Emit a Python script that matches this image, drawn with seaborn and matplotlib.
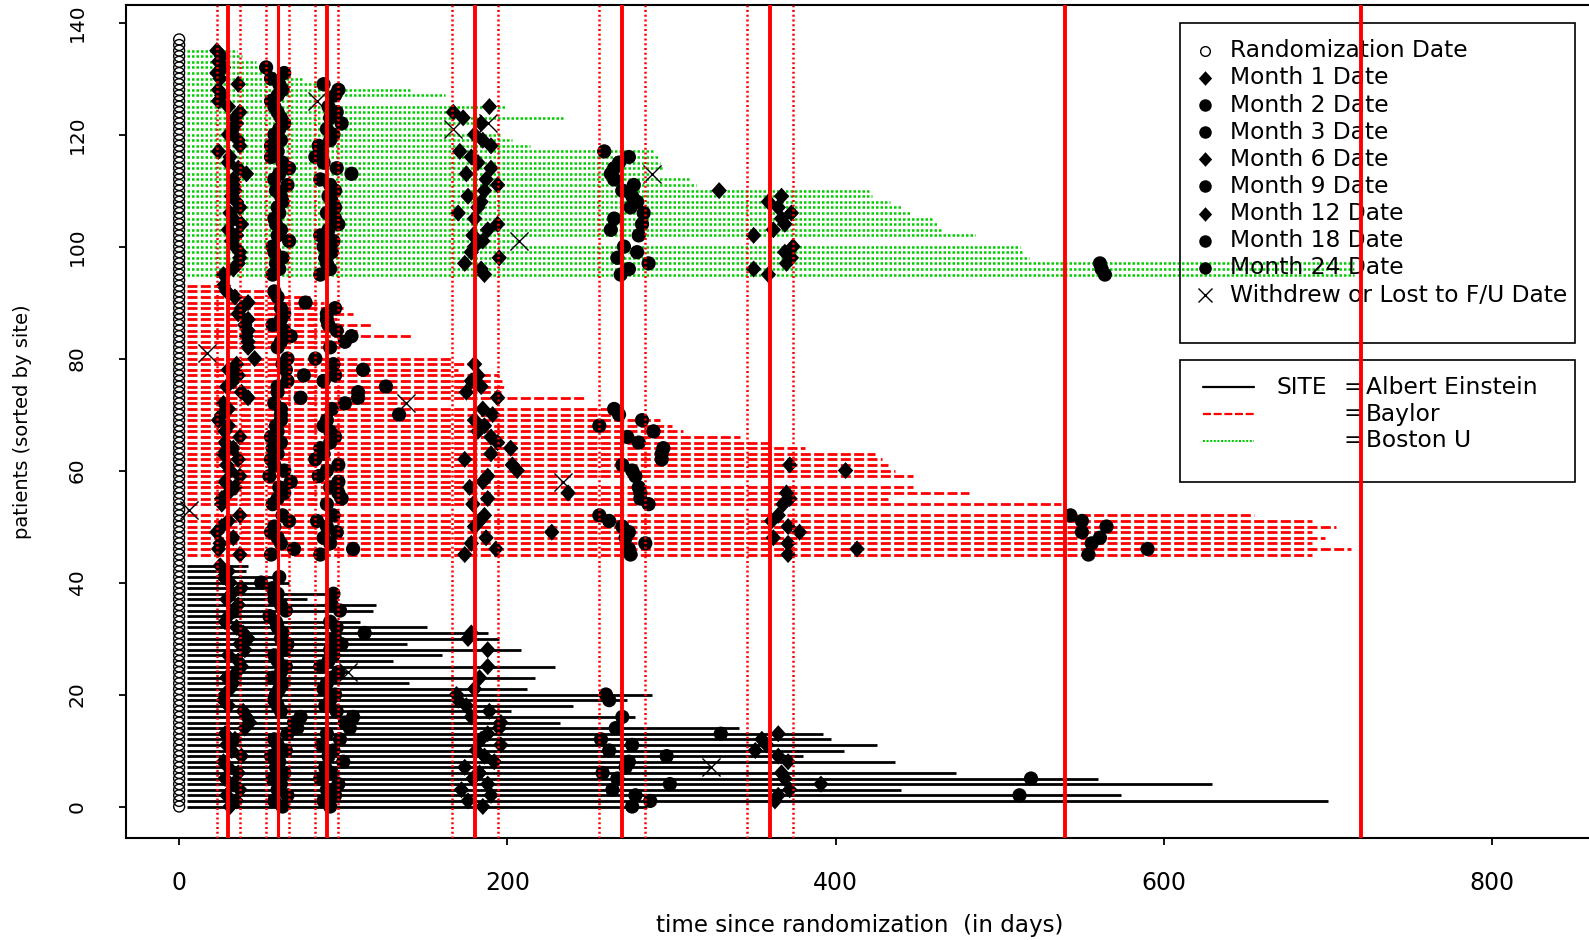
import matplotlib
matplotlib.use("Agg")
import matplotlib.pyplot as plt
from matplotlib.patches import Rectangle
from matplotlib.transforms import Affine2D
import numpy as np
import pandas as pd
import seaborn as sns

# Sites, stacked from the bottom of the plot
site_names = ["Albert Einstein", "Baylor", "Boston U"]
site_first_patient = [0, 44, 94]

# Albert Einstein (patients 0-43): day of last follow-up and visit days (None = no visit)
ae_end = [285, 700, 574, 440, 629, 560, 473, 324, 436, 380, 405, 425, 397, 392, 341, 232, 278, 202, 240, 273,
          288, 212, 140, 217, 103, 229, 130, 160, 208, 139, 195, 188, 151, 110, 57, 118, 120, 78, 97, 60,
          67, 62, 41, 42]
ae_m1 = [31, 35, 29, 37, 33, 28, 36, 30, 27, 38, 32, 29, 34, 28, 40, 43, 41, 39, 30, 27,
         28, 31, 33, 29, 35, 38, 36, 30, 40, 37, 42, 39, 35, 28, 30, 34, 36, 29, 32, 38,
         31, 27, 30, 25]
ae_m2 = [63, 58, 66, 60, 62, 57, 64, 59, 61, 56, 65, 60, 58, 66, 72, 70, 74, 62, 60, 58,
         59, 61, 63, 57, 62, 65, 60, 58, 64, 66, 62, 63, 60, 59, 55, 65, 62, 58, 60, 57,
         50, 61, None, None]
ae_m3 = [92, 88, 95, 90, 97, 86, 93, 89, 100, 91, 94, 87, 98, 90, 104, 101, 106, 96, 89, 92,
         95, 88, 90, 93, 97, 86, 91, 94, 92, 99, 95, 113, 96, 92, None, 98, 93, None, 94, None,
         None, None, None, None]
ae_m6 = [185, 176, 190, 172, 188, 179, 183, 174, 192, 186, 181, 196, 184, 188, 195, 196, 178, 189, 175, 170,
         169, 180, None, 183, None, 188, None, None, 188, None, 176, 178, None, None, None, None, None, None, None, None,
         None, None, None, None]
ae_m9 = [276, 287, 278, 264, 299, 267, 258, 272, 274, 297, 262, 276, 257, 330, 266, None, 270, None, None, 262,
         260, None, None, None, None, None, None, None, None, None, None, None, None, None, None, None, None, None, None, None,
         None, None, None, None]
ae_m12 = [None, 363, 365, 372, 391, 369, 367, None, 371, 365, 351, 358, 355, 365, None, None, None, None, None, None,
          None, None, None, None, None, None, None, None, None, None, None, None, None, None, None, None, None, None, None, None,
          None, None, None, None]
ae_m18 = [None, None, 512, None, None, 519, None, None, None, None, None, None, None, None, None, None, None, None, None, None,
          None, None, None, None, None, None, None, None, None, None, None, None, None, None, None, None, None, None, None, None,
          None, None, None, None]

# Baylor (patients 44-93)
by_end = [5, 690, 714, 690, 698, 690, 705, 690, 655, 6, 537, 432, 481, 447, 234, 447, 436, 432, 428, 424,
          381, 361, 342, 307, 300, 293, 272, 270, 138, 247, 196, 198, 197, 195, 170, 182, 166, 17, 98, 104,
          141, 110, 118, 96, 106, 100, 88, 80, 60, 30]
by_m1 = [None, 37, 24, 25, 33, 23, 26, 30, 37, None, 26, 26, 30, 34, 28, 37, 31, 29, 36, 27,
         33, 28, 37, 28, 30, 24, 26, 30, 27, 42, 38, 29, 33, 36, 30, 35, 46, None, 42, 42,
         41, 42, 40, 42, 36, 38, 42, 34, 29, 27]
by_m2 = [None, 56, 70, 62, 60, 56, 58, 67, 63, None, 57, 60, 64, 61, 68, 55, 64, 58, 56, 60,
         57, 62, 56, 60, 59, 62, 62, 62, 58, 74, 60, 60, 66, 76, 65, 63, 66, None, 60, 62,
         68, 64, 57, 62, 64, 62, 77, 60, 58, None]
by_m3 = [None, 86, 106, 92, 88, 96, 90, 84, 94, None, 90, 99, 97, 92, 97, 85, 90, 97, 83, 88,
         86, 92, 95, 92, 88, 90, 134, 93, 101, 109, 109, 126, 88, 95, 112, 94, 83, None, 92, 101,
         105, 96, 91, 90, 90, 95, None, None, None, None]
by_m6 = [None, 174, 193, 178, 187, 227, 180, 183, 186, None, 179, 188, 237, 177, 185, 188, 206, 203, 174, 190,
         202, 194, 190, 182, 186, 180, 191, 185, None, 194, 175, 184, 178, 182, None, 180, None, None, None, None,
         None, None, None, None, None, None, None, None, None, None]
by_m9 = [None, 275, 274, 284, 272, 274, 270, 262, 256, None, 286, 281, 281, 280, None, 278, 276, 270, 294, 294,
         295, 280, 273, 289, 256, 282, 268, 265, None, None, None, None, None, None, None, None, None, None, None, None,
         None, None, None, None, None, None, None, None, None, None]
by_m12 = [None, 371, 413, 371, 362, 378, 371, 361, 365, None, 368, 372, 370, None, None, None, 406, 372, None, None,
          None, None, None, None, None, None, None, None, None, None, None, None, None, None, None, None, None, None, None, None,
          None, None, None, None, None, None, None, None, None, None]
by_m18 = [None, 554, 590, 556, 561, 550, 565, 550, 543, None, None, None, None, None, None, None, None, None, None, None,
          None, None, None, None, None, None, None, None, None, None, None, None, None, None, None, None, None, None, None, None,
          None, None, None, None, None, None, None, None, None, None]

# Boston U (patients 94-137)
bu_end = [5, 716, 716, 716, 518, 514, 512, 207, 485, 465, 462, 460, 446, 440, 433, 422, 420, 315, 311, 288,
          294, 293, 292, 290, 214, 203, 196, 167, 188, 235, 175, 199, 84, 162, 142, 89, 76, 66, 54, 47,
          38, 35, 5, 5]
bu_m1 = [None, 27, 33, 36, 37, 37, 34, 32, 35, 30, 38, 33, 31, 37, 35, 32, 34, 33, 33, 41,
         36, 30, 31, 24, 37, 36, 30, 33, 35, 34, 37, 30, 24, 26, 24, 36, 25, 23, 27, 24,
         26, 23, None, None]
bu_m2 = [None, 57, 61, 59, 63, 58, 57, 67, 60, 62, 59, 58, 61, 60, 63, 62, 59, 66, 58, 61,
         67, 63, 56, 60, 56, 62, 58, 61, 64, 62, 60, 58, 56, 60, 63, 61, 56, 64, 53, None,
         None, None, None, None]
bu_m3 = [None, 86, 92, 90, 89, 93, 88, 94, 86, 91, 97, 95, 90, 95, 93, 91, 95, 92, 86, 105,
         96, 88, 83, 87, 85, 92, 94, 90, 99, 92, 96, 91, None, 95, 97, 88, None, None, None, None,
         None, None, None, None]
bu_m6 = [None, 186, 184, 174, 195, 178, 180, 185, 179, 188, 194, 180, 170, 182, 184, 176, 186, 194, 187, 175,
         190, 182, 178, 171, 190, 185, 180, None, 184, 173, 167, 189, None, None, None, None, None, None, None, None,
         None, None, None, None]
bu_m9 = [None, 269, 274, 286, 267, 279, 271, None, 280, 263, 282, 265, 283, 275, 279, 276, 270, 277, 265, 263,
         265, 268, 274, 259, None, None, None, None, None, None, None, None, None, None, None, None, None, None, None, None,
         None, None, None, None]
bu_m12 = [None, 359, 350, 370, 373, 369, 374, None, 350, 362, 369, 367, 373, 365, 359, 367, 329, None, None, None,
          None, None, None, None, None, None, None, None, None, None, None, None, None, None, None, None, None, None, None, None,
          None, None, None, None]
bu_m18 = [None, 564, 562, 561, None, None, None, None, None, None, None, None, None, None, None, None, None, None, None, None,
          None, None, None, None, None, None, None, None, None, None, None, None, None, None, None, None, None, None, None, None,
          None, None, None, None]

visit_names = ["Month 1 Date", "Month 2 Date", "Month 3 Date", "Month 6 Date", "Month 9 Date",
               "Month 12 Date", "Month 18 Date", "Month 24 Date"]
target_days = [30, 60, 90, 180, 270, 360, 540, 720]
window_days = [23, 37, 53, 67, 83, 97, 166, 194, 256, 284, 346, 374]

withdrew_patient = [7, 24, 53, 58, 72, 81, 101, 113, 121, 122, 126]
withdrew_day = [324, 103, 6, 234, 138, 17, 207, 288, 167, 188, 84]

# Long tables
site_end = {"Albert Einstein": ae_end, "Baylor": by_end, "Boston U": bu_end}
site_visits = {
    "Albert Einstein": [ae_m1, ae_m2, ae_m3, ae_m6, ae_m9, ae_m12, ae_m18],
    "Baylor": [by_m1, by_m2, by_m3, by_m6, by_m9, by_m12, by_m18],
    "Boston U": [bu_m1, bu_m2, bu_m3, bu_m6, bu_m9, bu_m12, bu_m18],
}
pat_rows, visit_rows = [], []
for site, first in zip(site_names, site_first_patient):
    for i, end in enumerate(site_end[site]):
        pat_rows.append((first + i, site, 0, end))
    for name, days in zip(visit_names, site_visits[site]):
        for i, d in enumerate(days):
            if d is not None:
                visit_rows.append((first + i, name, d))
patients = pd.DataFrame(pat_rows, columns=["patient", "site", "rand_day", "end"])
visits = pd.DataFrame(visit_rows, columns=["patient", "visit", "day"])

# Plot
sns.set_style("ticks")
plt.rcParams["font.family"] = ["DejaVu Sans"]
plt.rcParams["text.color"] = "black"
plt.rcParams["axes.labelcolor"] = "black"

W, H = 1589, 940
fig = plt.figure(figsize=(W / 100, H / 100), dpi=100)
ax = fig.add_axes([125.8 / W, 1 - 837.7 / H, (1594 - 125.8) / W, (837.7 - 4.7) / H])

site_style = {
    "Albert Einstein": dict(colors="black", linestyles="solid", linewidth=2.0),
    "Baylor": dict(colors="#ff0000", linestyles=(0, (3.6, 1.2)), linewidth=2.0),
    "Boston U": dict(colors="#00cd00", linestyles=(0, (1.0, 0.8)), linewidth=1.8),
}
line_start = 5
for site, grp in patients.groupby("site", sort=False):
    ax.hlines(grp["patient"], line_start, grp["end"], zorder=1, **site_style[site])

# randomization circles
ax.scatter(patients["rand_day"], patients["patient"], s=62, facecolors="none",
           edgecolors="black", linewidths=1.0, zorder=2)

diamond = [(-1, 0), (0, 1.1), (1, 0), (0, -1.1)]
visit_marker = {"Month 1 Date": diamond, "Month 2 Date": "o", "Month 3 Date": "o",
                "Month 6 Date": diamond, "Month 9 Date": "o", "Month 12 Date": diamond,
                "Month 18 Date": "o", "Month 24 Date": "o"}
visit_size = {"Month 1 Date": 150, "Month 2 Date": 105, "Month 3 Date": 105, "Month 6 Date": 150,
              "Month 9 Date": 105, "Month 12 Date": 150, "Month 18 Date": 105, "Month 24 Date": 105}

for name in visit_names:
    sub = visits[visits["visit"] == name]
    if sub.empty:
        continue
    sns.scatterplot(data=sub, x="day", y="patient", marker=visit_marker[name], s=visit_size[name],
                    color="black", edgecolor="none", linewidth=0, ax=ax, zorder=3, legend=False)

ax.scatter(withdrew_day, withdrew_patient, marker="x", s=170, color="black", linewidths=1.0, zorder=4)

# visit targets and windows
for d in target_days:
    ax.axvline(d, color="#ff0000", lw=2.2 if d == 60 else 2.8, zorder=6)
for d in window_days:
    ax.axvline(d, color="#ff0000", lw=1.8, ls=(0, (0.8, 1.1)), zorder=6)

ax.set_xlim(-32.5, 862)
ax.set_ylim(-5.57, 143.2)
ax.set_xticks([0, 200, 400, 600, 800])
yt = list(range(0, 141, 20))
ax.set_yticks(yt, labels=[str(t) for t in yt], rotation=90, va="center")
ax.tick_params(axis="both", direction="out", length=5, width=1.3, colors="black")
ax.tick_params(axis="x", labelsize=17, pad=19)
ax.tick_params(axis="y", labelsize=14.5, pad=23)
for s in ax.spines.values():
    s.set_linewidth(1.5)
    s.set_color("black")

ax.set_xlabel("time since randomization  (in days)", fontsize=16.6)
ax.xaxis.set_label_coords(0.5, -0.1058)
ax.xaxis.label.set_va("center")
ax.set_ylabel("patients (sorted by site)", fontsize=14)
ax.yaxis.set_label_coords(-0.0705, 0.5)
ax.yaxis.label.set_va("center")

# Legends drawn by hand in pixel coordinates (top-left origin)
pix = Affine2D().scale(1 / fig.dpi, -1 / fig.dpi).translate(0, H / fig.dpi) + fig.dpi_scale_trans

ax.add_patch(Rectangle((1180, 23.3), 395.3, 319.4, transform=pix, fill=False, lw=1.2,
                       ec="black", zorder=5, clip_on=False))
legend_rows = ["Randomization Date"] + visit_names + ["Withdrew or Lost to F/U Date"]
for k, label in enumerate(legend_rows):
    y = 50.7 + 27.15 * k
    ax.text(1229.5, y, label, transform=pix, fontsize=16.8, va="center", ha="left", zorder=5)
    if k == 0:
        ax.plot([1205.4], [y], transform=pix, marker="o", ms=7, mfc="none", mec="black",
                mew=1.0, zorder=5)
    elif label in visit_marker:
        ax.plot([1205.4], [y], transform=pix, marker=visit_marker[label],
                ms=10.5 if visit_marker[label] is diamond else 9, color="black", mew=0, zorder=5)
    else:
        ax.plot([1205.4], [y], transform=pix, marker="x", ms=10, color="black", mew=1.0, zorder=5)

ax.add_patch(Rectangle((1180, 360), 395.3, 122.3, transform=pix, fill=False, lw=1.2,
                       ec="black", zorder=5, clip_on=False))
ax.text(1277, 387.3, "SITE", transform=pix, fontsize=16.8, va="center", ha="left", zorder=5)
for k, site in enumerate(site_names):
    y = 387.3 + 26.7 * k
    st = site_style[site]
    ax.plot([1203, 1253.7], [y, y], transform=pix, color=st["colors"], ls=st["linestyles"],
            lw=st["linewidth"] * 0.8, zorder=5)
    ax.text(1343.7, y, "=", transform=pix, fontsize=16.8, va="center", ha="left", zorder=5)
    ax.text(1365.7, y, site, transform=pix, fontsize=16.8, va="center", ha="left", zorder=5)

fig.savefig("out.png", dpi=100)
plt.close(fig)
